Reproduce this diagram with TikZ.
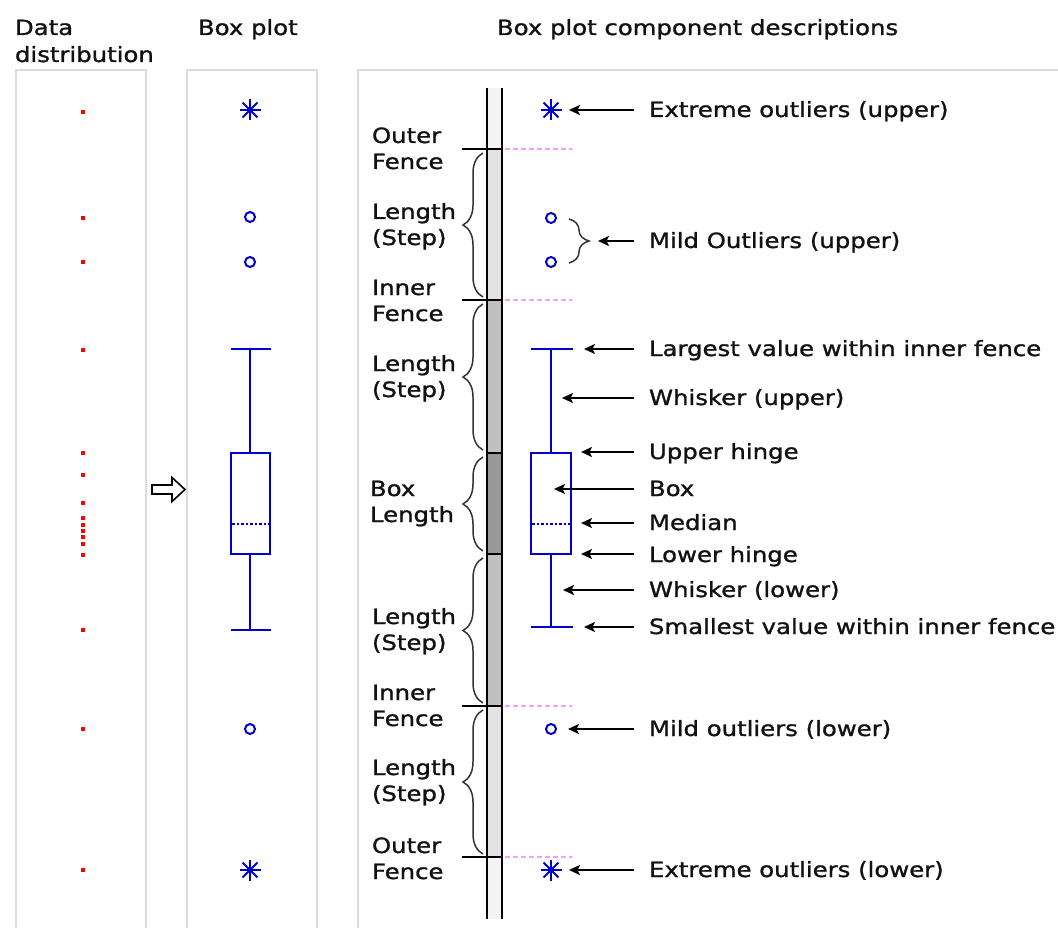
\documentclass[tikz,border=0pt]{standalone}
\usepackage{fontspec}
\setmainfont{DejaVu Sans}[FakeStretch=1.16,FakeBold=1.2]
\usetikzlibrary{arrows.meta,decorations.pathreplacing}
\definecolor{panelgray}{HTML}{DCDCDC}
\definecolor{bpblue}{HTML}{0000CC}
\definecolor{fencepink}{HTML}{FF99FF}
\definecolor{rulA}{HTML}{F4F4F4}
\definecolor{rulB}{HTML}{E3E3E3}
\definecolor{rulC}{HTML}{C0C0C0}
\definecolor{rulD}{HTML}{999999}
\definecolor{txt}{HTML}{111111}
\definecolor{brc}{HTML}{333333}
\begin{document}
\begin{tikzpicture}[x=1pt,y=-1pt,
  every node/.style={inner sep=0pt, outer sep=0pt},
  lbl/.style={anchor=base west, font=\fontsize{21}{26}\selectfont, text=txt},
  panel/.style={draw=panelgray, line width=2pt},
  ddot/.style={fill=red, minimum size=4.5pt, inner sep=0pt, rectangle},
  bp/.style={draw=bpblue, line width=2.4pt},
  med/.style={draw=bpblue, line width=2.4pt, dash pattern=on 2.5pt off 2pt},
  mild/.style={circle, draw=bpblue, line width=2pt, minimum size=10pt},
  astr/.style={circle, minimum size=22pt, path picture={
      \foreach \a in {0,45,90,135}{
        \draw[bpblue, line width=2pt] ([shift={(\a:10.5pt)}]path picture bounding box.center) -- ([shift={(\a+180:10.5pt)}]path picture bounding box.center);}
      \fill[bpblue] (path picture bounding box.center) circle (2.6pt);}},
  fpink/.style={draw=fencepink, line width=1.6pt, dash pattern=on 5pt off 3pt},
  tick/.style={draw=black, line width=2pt},
  rul/.style={draw=black, line width=2.4pt},
  brace/.style={decorate, decoration={brace, amplitude=20pt}, draw=brc, line width=1.5pt},
  arr/.style={-{Stealth[length=11pt,width=10pt,inset=2.5pt]}, line width=2pt, draw=black},
  ]
\useasboundingbox (0,0) rectangle (1058,928);

% headers
\node[lbl] (h1a) at (15,35) {Data};
\node[lbl] (h1b) at (15,62) {distribution};
\node[lbl] (h2) at (198,35) {Box plot};
\node[lbl] (h3) at (497,35) {Box plot component descriptions};

% panels
\draw[panel] (16,930) -- (16,70) -- (146,70) -- (146,930);
\draw[panel] (187,930) -- (187,70) -- (317,70) -- (317,930);
\draw[panel] (358,930) -- (358,70) -- (1062,70);

% data distribution dots
\foreach \y [count=\i] in {112,218,262,350,453,475,503,518,525,531,537,544,555,630,729,870}
  \node[ddot] (d\i) at (83,\y) {};

% hollow arrow
\draw[line width=1.6pt, fill=white, draw=black] (152,485) -- (172,485) -- (172,477.5) -- (185,489.5) -- (172,501.5) -- (172,494) -- (152,494) -- cycle;

% box plot (panel 2)
\node[astr] (bs1) at (250,110) {};
\node[mild] (bm1) at (250,217) {};
\node[mild] (bm2) at (250,262) {};
\draw[bp] (231,349) -- (271,349);
\draw[bp] (250,349) -- (250,453);
\draw[bp] (231,453) rectangle (270,554);
\draw[med] (232,524) -- (269,524);
\draw[bp] (250,554) -- (250,630);
\draw[bp] (231,630) -- (271,630);
\node[mild] (bm3) at (250,729) {};
\node[astr] (bs2) at (250,870) {};

% ruler
\fill[rulA] (487,88) rectangle (502,149);
\fill[rulB] (487,149) rectangle (502,300);
\fill[rulC] (487,300) rectangle (502,453);
\fill[rulD] (487,453) rectangle (502,554);
\fill[rulC] (487,554) rectangle (502,706);
\fill[rulB] (487,706) rectangle (502,857);
\fill[rulA] (487,857) rectangle (502,919);
\draw[rul] (487,88) -- (487,919);
\draw[rul] (502,88) -- (502,919);
\foreach \y in {149,300,706,857}{
  \draw[tick] (462,\y) -- (502,\y);
  \draw[fpink] (505,\y) -- (572,\y);
}
\draw[tick] (487,453) -- (502,453);
\draw[tick] (487,554) -- (502,554);

% braces
\draw[brace] (483,297) -- (483,153);
\draw[brace] (483,450) -- (483,304);
\draw[brace] (483,551) -- (483,457);
\draw[brace] (483,703) -- (483,558);
\draw[brace] (483,854) -- (483,710);

% left labels
\node[lbl] (o1a) at (372,143) {Outer};
\node[lbl] (o1b) at (372,169) {Fence};
\node[lbl] (s1a) at (372,219) {Length};
\node[lbl] (s1b) at (372,245) {(Step)};
\node[lbl] (i1a) at (372,295) {Inner};
\node[lbl] (i1b) at (372,321) {Fence};
\node[lbl] (s2a) at (372,371) {Length};
\node[lbl] (s2b) at (372,397) {(Step)};
\node[lbl] (bla) at (370,496) {Box};
\node[lbl] (blb) at (370,522) {Length};
\node[lbl] (s3a) at (372,624) {Length};
\node[lbl] (s3b) at (372,650) {(Step)};
\node[lbl] (i2a) at (372,700) {Inner};
\node[lbl] (i2b) at (372,726) {Fence};
\node[lbl] (s4a) at (372,775) {Length};
\node[lbl] (s4b) at (372,801) {(Step)};
\node[lbl] (o2a) at (372,853) {Outer};
\node[lbl] (o2b) at (372,879) {Fence};

% box plot (panel 3)
\node[astr] (cs1) at (551,110) {};
\node[mild] (cm1) at (551,218) {};
\node[mild] (cm2) at (551,262) {};
\draw[brace] (569,219) -- (569,263);
\draw[bp] (531,349) -- (573,349);
\draw[bp] (551,349) -- (551,453);
\draw[bp] (531,453) rectangle (571,554);
\draw[med] (532,524) -- (570,524);
\draw[bp] (551,554) -- (551,627);
\draw[bp] (531,627) -- (573,627);
\node[mild] (cm3) at (551,729) {};
\node[astr] (cs2) at (551,870) {};

% right labels
\node[lbl] (r1) at (649,117) {Extreme outliers (upper)};
\node[lbl] (r2) at (649,248) {Mild Outliers (upper)};
\node[lbl] (r3) at (649,356) {Largest value within inner fence};
\node[lbl] (r4) at (649,405) {Whisker (upper)};
\node[lbl] (r5) at (649,459) {Upper hinge};
\node[lbl] (r6) at (649,496) {Box};
\node[lbl] (r7) at (649,530) {Median};
\node[lbl] (r8) at (649,562) {Lower hinge};
\node[lbl] (r9) at (649,597) {Whisker (lower)};
\node[lbl] (r10) at (649,634) {Smallest value within inner fence};
\node[lbl] (r11) at (649,736) {Mild outliers (lower)};
\node[lbl] (r12) at (649,877) {Extreme outliers (lower)};

% arrow tips
\coordinate (t1) at (569,110);
\coordinate (t2) at (598,241);
\coordinate (t3) at (584,349);
\coordinate (t4) at (562,398);
\coordinate (t5) at (581,452);
\coordinate (t6) at (554,489);
\coordinate (t7) at (581,523);
\coordinate (t8) at (581,554);
\coordinate (t9) at (563,590);
\coordinate (t10) at (584,627);
\coordinate (t11) at (568,729);
\coordinate (t12) at (569,870);
\foreach \i in {1,...,12}
  \draw[arr] ([xshift=-15pt]r\i.west |- t\i) -- (t\i);
\end{tikzpicture}
\end{document}
